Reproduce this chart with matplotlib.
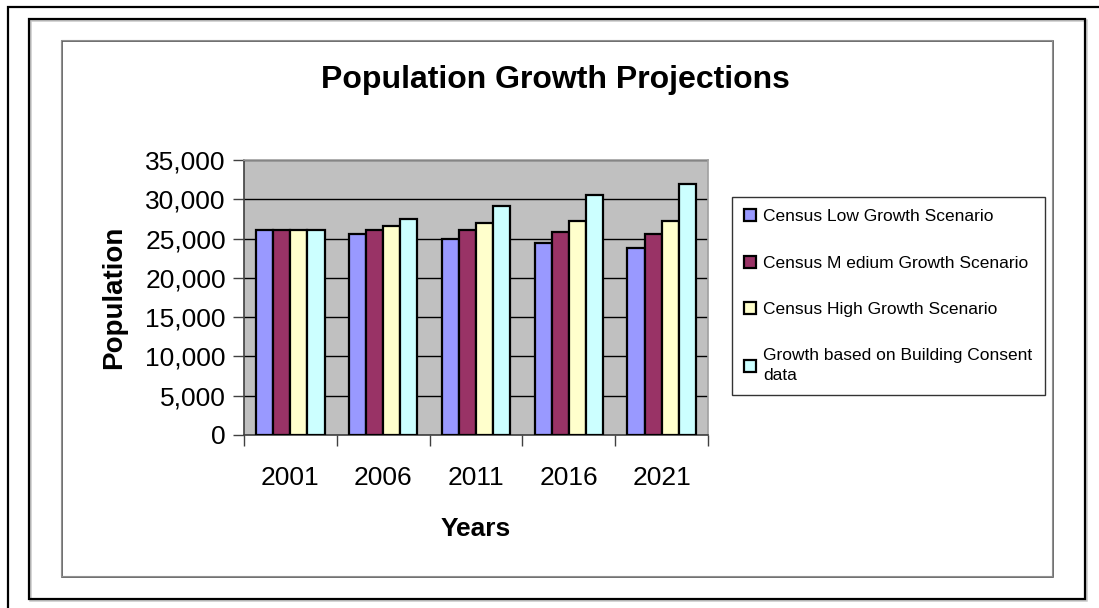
import numpy as np
import matplotlib.pyplot as plt
from matplotlib.patches import Rectangle

plt.rcParams['font.family'] = ['Liberation Sans', 'DejaVu Sans']

years = ['2001', '2006', '2011', '2016', '2021']
series_names = ['Census Low Growth Scenario',
                'Census M edium Growth Scenario',
                'Census High Growth Scenario',
                'Growth based on Building Consent\ndata']
low = [26100, 25550, 25000, 24400, 23850]
medium = [26100, 26100, 26100, 25850, 25550]
high = [26100, 26650, 26950, 27250, 27250]
building = [26100, 27500, 29200, 30600, 32000]
colors = ['#9999FF', '#993366', '#FFFFCC', '#CCFFFF']

W, H = 1099, 608
fig = plt.figure(figsize=(W / 100, H / 100), dpi=100)


def px_rect(x0, y0, x1, y1, **kw):
    # rectangle given in pixel coords (origin top-left)
    r = Rectangle((x0 / W, 1 - y1 / H), (x1 - x0) / W, (y1 - y0) / H,
                  transform=fig.transFigure, fill=False, **kw)
    fig.add_artist(r)


# frames
px_rect(8, 7, 1120, 630, lw=1.6, edgecolor='black')
px_rect(30, 20, 1086, 600, lw=1.8, edgecolor='#c8c8c8')
px_rect(29, 19, 1085, 599, lw=1.6, edgecolor='black')
px_rect(62, 41, 1053, 577, lw=1.2, edgecolor='#555555')
px_rect(61, 40, 1052, 576, lw=0.8, edgecolor='#909090')

ax = fig.add_axes([244 / W, 1 - 435 / H, (708 - 244) / W, 275 / H])
ax.set_facecolor('#C0C0C0')

x = np.arange(len(years))
width = 0.184
data = [low, medium, high, building]
for i, (vals, c, name) in enumerate(zip(data, colors, series_names)):
    ax.bar(x + (i - 1.5) * width, vals, width, color=c, edgecolor='black',
           linewidth=1.6, label=name, zorder=3)

ax.set_xlim(-0.5, len(years) - 0.5)
ax.set_ylim(0, 35000)
ax.set_yticks(np.arange(0, 35001, 5000))
ax.set_yticklabels([f'{v:,}' for v in range(0, 35001, 5000)], fontsize=19)
ax.set_xticks(x)
ax.set_xticklabels(years, fontsize=19)
ax.set_xticks(np.arange(-0.5, len(years), 1), minor=True)
ax.tick_params(axis='x', which='major', length=0, pad=22)
ax.tick_params(axis='x', which='minor', length=8, width=1, color='#404040')
ax.tick_params(axis='y', length=8, width=1, color='#404040', pad=5)
ax.yaxis.grid(True, color='black', lw=1)
ax.set_axisbelow(True)
for s in ['top', 'right']:
    ax.spines[s].set_color('#a0a0a0')
    ax.spines[s].set_linewidth(1.2)
for s in ['left', 'bottom']:
    ax.spines[s].set_color('#404040')
    ax.spines[s].set_linewidth(1.2)

ax.set_xlabel('Years', fontsize=19, fontweight='bold', labelpad=20)
ax.set_ylabel('Population', fontsize=20, fontweight='bold', labelpad=13)
fig.text(555 / W, 1 - 80 / H, 'Population Growth Projections', fontsize=23,
         fontweight='bold', ha='center', va='center')

leg = fig.legend(loc='upper left', bbox_to_anchor=(732 / W, 1 - 197 / H),
                 frameon=True, fancybox=False, fontsize=12.5,
                 handlelength=0.7, handleheight=0.7, handletextpad=0.4,
                 labelspacing=1.8, borderpad=0.7, borderaxespad=0)
leg.get_frame().set_edgecolor('black')
leg.get_frame().set_linewidth(1)
for t in leg.get_texts():
    t.set_linespacing(1.4)

fig.savefig('out.png', dpi=100)
